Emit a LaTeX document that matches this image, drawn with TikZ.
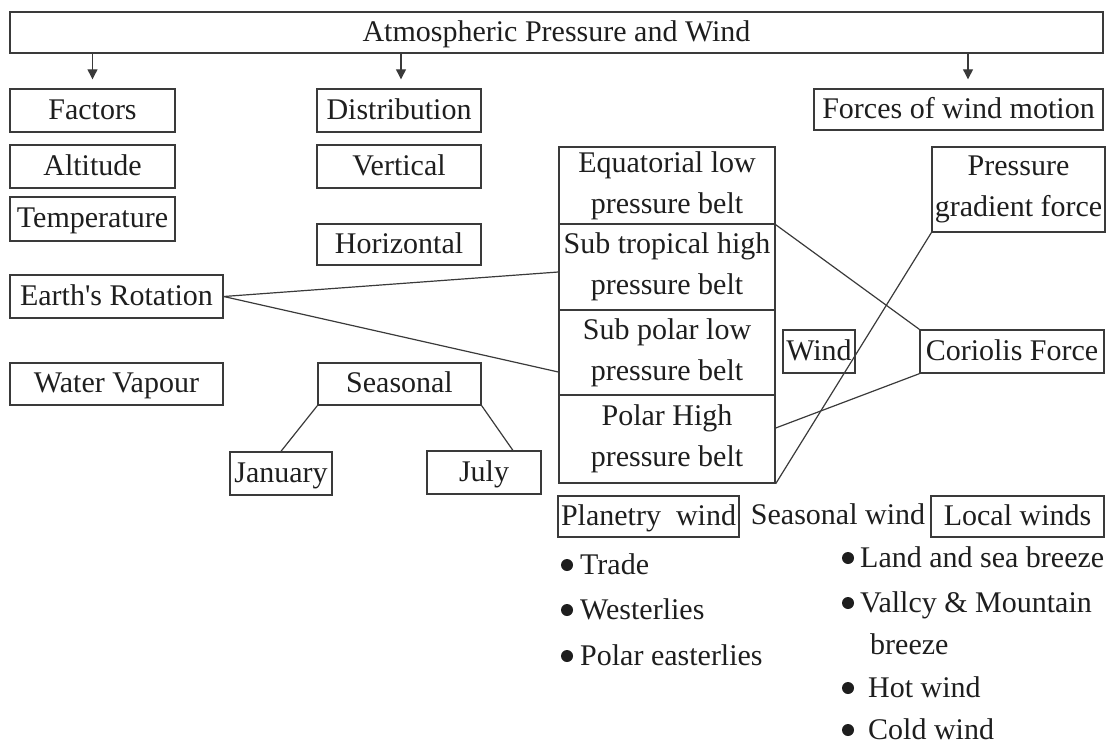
\documentclass[tikz,border=0pt]{standalone}
\usepackage{fontspec}
\setmainfont{Liberation Serif}
\usetikzlibrary{arrows.meta,calc}
\definecolor{ink}{HTML}{1E1E1E}
\definecolor{edge}{HTML}{3A3A3A}
\begin{document}
\begin{tikzpicture}[x=1pt,y=-1pt,
  every node/.style={font=\fontsize{30}{41}\selectfont, text=ink},
  box/.style={draw=edge, line width=1.4pt, inner sep=0pt, align=center},
  one/.style={text height=21pt, text depth=4pt},
  link/.style={draw=edge, line width=1.2pt},
  arr/.style={draw=edge, line width=1.2pt, -{Triangle[length=10pt,width=10pt]}},
  item/.style={anchor=west, inner sep=0pt, text height=21pt, text depth=4pt},
  dot/.style={circle, fill=ink, inner sep=0pt, minimum size=12pt}]
\useasboundingbox (0,0) rectangle (1110,744);
% title
\node[box, one, minimum width=1093pt, minimum height=41pt] (title) at (556.5,32.5) {Atmospheric Pressure and Wind};
% left column
\node[box, one, minimum width=165pt, minimum height=43pt] (factors) at (92.5,110.5) {Factors};
\node[box, one, minimum width=165pt, minimum height=43pt] (altitude) at (92.5,166.5) {Altitude};
\node[box, one, minimum width=165pt, minimum height=44pt] (temp) at (92.5,219) {Temperature};
\node[box, one, minimum width=213pt, minimum height=43pt] (earth) at (116.5,296.5) {Earth\textquotesingle s Rotation};
\node[box, one, minimum width=213pt, minimum height=42pt] (water) at (116.5,384) {Water Vapour};
% distribution column
\node[box, one, minimum width=164pt, minimum height=43pt] (distr) at (399,110.5) {Distribution};
\node[box, one, minimum width=164pt, minimum height=43pt] (vert) at (399,166.5) {Vertical};
\node[box, one, minimum width=164pt, minimum height=41pt] (horiz) at (399,244.5) {Horizontal};
\node[box, one, minimum width=163pt, minimum height=42pt] (seas) at (399.5,384) {Seasonal};
\node[box, one, minimum width=102pt, minimum height=43pt] (jan) at (281,473.5) {January};
\node[box, one, minimum width=114pt, minimum height=43pt] (july) at (484,472.5) {July};
% pressure belts
\node[box, minimum width=216pt, minimum height=77pt] (belt1) at (667,185.5) {Equatorial low\\pressure belt};
\node[box, minimum width=216pt, minimum height=86pt] (belt2) at (667,267) {Sub tropical high\\pressure belt};
\node[box, minimum width=216pt, minimum height=85pt] (belt3) at (667,352.5) {Sub polar low\\pressure belt};
\node[box, minimum width=216pt, minimum height=88pt] (belt4) at (667,439) {Polar High\\pressure belt};
% forces column
\node[box, one, minimum width=289pt, minimum height=41pt] (forces) at (958.5,109.5) {Forces of wind\ motion};
\node[box, minimum width=173pt, minimum height=85pt] (pgf) at (1018.5,189.5) {Pressure\\gradient force};
\node[box, one, minimum width=72pt, minimum height=43pt] (wind) at (819,351.5) {Wind};
\node[box, one, minimum width=184pt, minimum height=43pt] (cor) at (1012,351.5) {Coriolis Force};
% wind types
\node[box, one, minimum width=181pt, minimum height=41pt] (plan) at (648.5,516.5) {Planetry\ \ wind};
\node[one, inner sep=0pt] (seaw) at (838,516) {Seasonal wind};
\node[box, one, minimum width=173pt, minimum height=41pt] (local) at (1017.5,516.5) {Local winds};
% planetary list
\node[dot] (b1) at (567,565) {};
\node[item] (l1) at (580,566) {Trade};
\node[dot] (b2) at (567,610) {};
\node[item] (l2) at (580,611) {Westerlies};
\node[dot] (b3) at (567,656) {};
\node[item] (l3) at (580,657) {Polar easterlies};
% local list
\node[dot] (c1) at (848,558) {};
\node[item] (r1) at (860,559) {Land and sea breeze};
\node[dot] (c2) at (848,603) {};
\node[item] (r2) at (860,604) {Vallcy \& Mountain};
\node[item] (r2b) at (870,646) {breeze};
\node[dot] (c3) at (848,688) {};
\node[item] (r3) at (868,689) {Hot wind};
\node[dot] (c4) at (848,730) {};
\node[item] (r4) at (868,731) {Cold wind};
% arrows from title
\coordinate (fx) at (968,0);
\draw[arr] (title.south -| factors.north) -- ([yshift=9pt]factors.north);
\draw[arr] ([xshift=2pt]title.south -| distr.north) -- ([xshift=2pt,yshift=9pt]distr.north);
\draw[arr] (title.south -| fx) -- ([yshift=9pt]forces.north -| fx);
% connectors
\draw[link] (earth.east) -- ([yshift=-5pt]belt2.west);
\draw[link] (earth.east) -- ([yshift=-19.5pt]belt3.west);
\draw[link] (seas.south west) -- (jan.north);
\draw[link] (seas.south east) -- ($(july.north west)!0.75!(july.north east)$);
\draw[link] (belt1.south east) -- (cor.north west);
\draw[link] ([yshift=11pt]belt4.east) -- (cor.south west);
\draw[link] (belt4.south east) -- (pgf.south west);
\end{tikzpicture}
\end{document}
